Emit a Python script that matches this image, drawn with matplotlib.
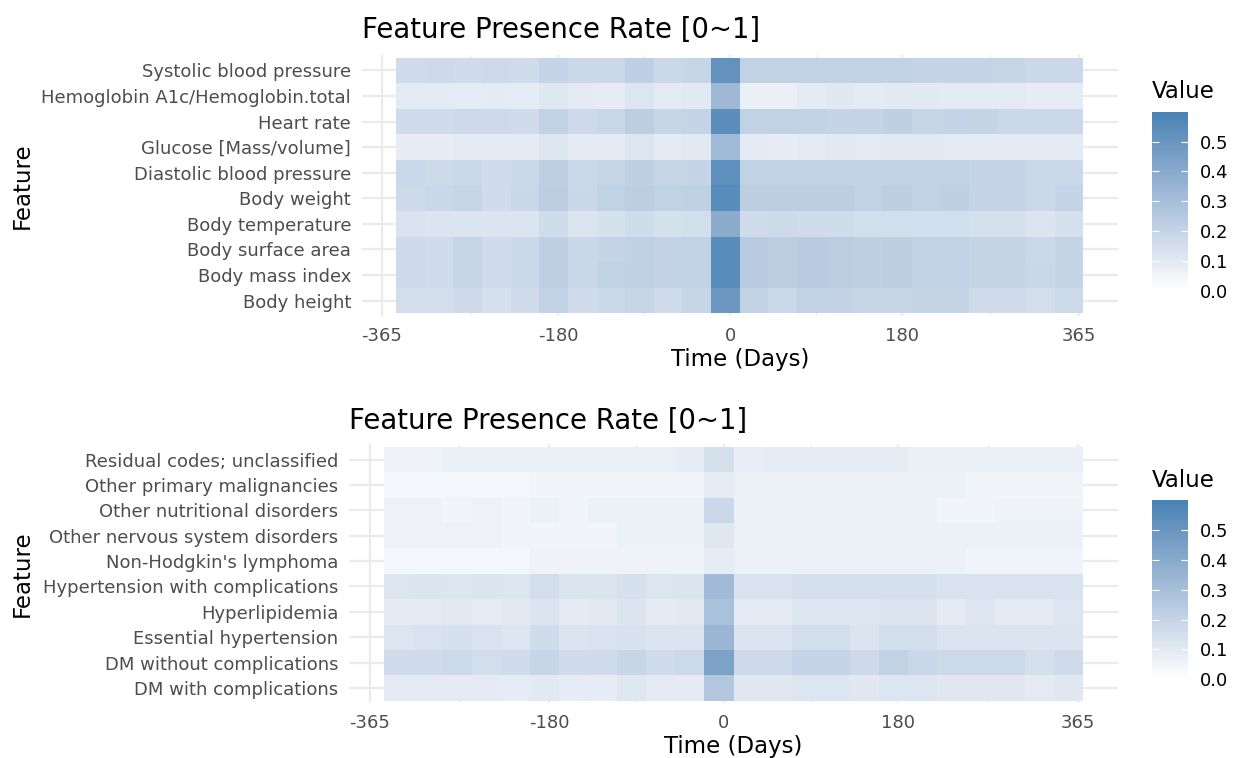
import numpy as np
import matplotlib
matplotlib.use('Agg')
import matplotlib.pyplot as plt
from matplotlib.colors import ListedColormap, Normalize
from matplotlib.cm import ScalarMappable
from matplotlib import transforms

# 30-day bins, centre of each tile (days relative to index date)
days = [-335, -305, -275, -245, -215, -185, -155, -125, -95, -65, -35, -5,
        25, 55, 85, 115, 145, 175, 205, 235, 265, 295, 325, 355]
bin_width = 30
x_ticks = [-365, -180, 0, 180, 365]
x_minor = [-272.5, -90, 90, 272.5]
legend_ticks = [0.0, 0.1, 0.2, 0.3, 0.4, 0.5]

top_features = ['Systolic blood pressure', 'Hemoglobin A1c/Hemoglobin.total',
                'Heart rate', 'Glucose [Mass/volume]', 'Diastolic blood pressure',
                'Body weight', 'Body temperature', 'Body surface area',
                'Body mass index', 'Body height']
top_rates = [
    [0.16, 0.17, 0.16, 0.17, 0.16, 0.20, 0.18, 0.18, 0.22, 0.18, 0.19, 0.52,
     0.21, 0.21, 0.21, 0.21, 0.21, 0.21, 0.20, 0.20, 0.20, 0.19, 0.18, 0.18],
    [0.09, 0.09, 0.085, 0.09, 0.085, 0.11, 0.09, 0.085, 0.115, 0.09, 0.10, 0.33,
     0.07, 0.07, 0.09, 0.105, 0.09, 0.10, 0.10, 0.09, 0.09, 0.09, 0.08, 0.085],
    [0.16, 0.16, 0.17, 0.17, 0.16, 0.21, 0.17, 0.185, 0.225, 0.19, 0.20, 0.54,
     0.21, 0.21, 0.21, 0.20, 0.20, 0.22, 0.19, 0.20, 0.195, 0.18, 0.18, 0.18],
    [0.08, 0.08, 0.09, 0.09, 0.09, 0.115, 0.09, 0.09, 0.115, 0.09, 0.10, 0.32,
     0.09, 0.08, 0.09, 0.10, 0.095, 0.10, 0.10, 0.095, 0.09, 0.09, 0.09, 0.09],
    [0.18, 0.17, 0.18, 0.16, 0.18, 0.22, 0.18, 0.19, 0.22, 0.19, 0.20, 0.53,
     0.21, 0.21, 0.21, 0.21, 0.21, 0.21, 0.21, 0.21, 0.20, 0.20, 0.18, 0.18],
    [0.17, 0.185, 0.19, 0.16, 0.185, 0.225, 0.185, 0.21, 0.225, 0.21, 0.215, 0.55,
     0.225, 0.225, 0.225, 0.225, 0.21, 0.225, 0.21, 0.22, 0.20, 0.20, 0.18, 0.20],
    [0.13, 0.125, 0.125, 0.125, 0.125, 0.16, 0.125, 0.14, 0.16, 0.14, 0.15, 0.39,
     0.16, 0.17, 0.16, 0.16, 0.15, 0.15, 0.15, 0.15, 0.145, 0.145, 0.125, 0.14],
    [0.17, 0.16, 0.19, 0.16, 0.18, 0.22, 0.185, 0.20, 0.215, 0.205, 0.21, 0.55,
     0.24, 0.23, 0.24, 0.23, 0.22, 0.225, 0.21, 0.21, 0.195, 0.195, 0.18, 0.195],
    [0.17, 0.16, 0.19, 0.16, 0.18, 0.22, 0.185, 0.21, 0.215, 0.205, 0.21, 0.55,
     0.24, 0.23, 0.24, 0.23, 0.22, 0.225, 0.21, 0.21, 0.195, 0.195, 0.185, 0.195],
    [0.15, 0.15, 0.17, 0.14, 0.16, 0.21, 0.16, 0.18, 0.19, 0.16, 0.19, 0.49,
     0.21, 0.18, 0.21, 0.205, 0.19, 0.19, 0.195, 0.195, 0.165, 0.165, 0.15, 0.175],
]

bottom_features = ['Residual codes; unclassified', 'Other primary malignancies',
                   'Other nutritional disorders', 'Other nervous system disorders',
                   "Non-Hodgkin's lymphoma", 'Hypertension with complications',
                   'Hyperlipidemia', 'Essential hypertension',
                   'DM without complications', 'DM with complications']
bottom_rates = [
    [0.055, 0.055, 0.07, 0.07, 0.07, 0.07, 0.07, 0.07, 0.07, 0.07, 0.085, 0.145,
     0.075, 0.085, 0.085, 0.085, 0.085, 0.085, 0.07, 0.07, 0.07, 0.07, 0.07, 0.07],
    [0.04, 0.04, 0.04, 0.04, 0.04, 0.05, 0.05, 0.05, 0.05, 0.05, 0.05, 0.085,
     0.065, 0.065, 0.065, 0.065, 0.065, 0.065, 0.065, 0.065, 0.05, 0.05, 0.05, 0.05],
    [0.06, 0.06, 0.05, 0.06, 0.05, 0.065, 0.05, 0.065, 0.065, 0.065, 0.065, 0.18,
     0.065, 0.065, 0.065, 0.065, 0.065, 0.065, 0.065, 0.05, 0.05, 0.055, 0.055, 0.055],
    [0.06, 0.06, 0.06, 0.06, 0.05, 0.05, 0.05, 0.05, 0.065, 0.065, 0.065, 0.11,
     0.065, 0.065, 0.065, 0.065, 0.065, 0.065, 0.065, 0.065, 0.065, 0.065, 0.065, 0.065],
    [0.04, 0.04, 0.04, 0.04, 0.04, 0.055, 0.055, 0.055, 0.055, 0.055, 0.055, 0.085,
     0.065, 0.065, 0.065, 0.065, 0.065, 0.065, 0.065, 0.065, 0.05, 0.05, 0.05, 0.05],
    [0.115, 0.125, 0.12, 0.125, 0.12, 0.15, 0.125, 0.125, 0.14, 0.12, 0.125, 0.32,
     0.13, 0.13, 0.145, 0.145, 0.145, 0.145, 0.145, 0.13, 0.13, 0.13, 0.13, 0.13],
    [0.09, 0.09, 0.10, 0.085, 0.10, 0.125, 0.09, 0.10, 0.125, 0.09, 0.10, 0.29,
     0.09, 0.09, 0.115, 0.115, 0.115, 0.125, 0.125, 0.09, 0.115, 0.09, 0.09, 0.115],
    [0.12, 0.13, 0.14, 0.13, 0.12, 0.16, 0.125, 0.13, 0.135, 0.125, 0.125, 0.34,
     0.125, 0.125, 0.15, 0.15, 0.125, 0.15, 0.15, 0.125, 0.125, 0.125, 0.125, 0.125],
    [0.16, 0.16, 0.175, 0.15, 0.16, 0.19, 0.16, 0.16, 0.19, 0.16, 0.175, 0.44,
     0.17, 0.17, 0.20, 0.20, 0.17, 0.21, 0.185, 0.175, 0.175, 0.175, 0.145, 0.165],
    [0.09, 0.09, 0.09, 0.09, 0.085, 0.10, 0.085, 0.08, 0.11, 0.09, 0.09, 0.26,
     0.105, 0.105, 0.115, 0.12, 0.105, 0.115, 0.115, 0.105, 0.105, 0.105, 0.095, 0.105],
]

# white -> steelblue, interpolated in CIELAB like ggplot's scale_fill_gradient
M = np.array([[0.4124, 0.3576, 0.1805],
              [0.2126, 0.7152, 0.0722],
              [0.0193, 0.1192, 0.9505]])
WHITE = np.array([0.95047, 1.0, 1.08883])


def to_lab(rgb):
    c = np.asarray(rgb, float) / 255
    c = np.where(c <= 0.04045, c / 12.92, ((c + 0.055) / 1.055) ** 2.4)
    xyz = M @ c / WHITE
    f = np.where(xyz > (6 / 29) ** 3, np.cbrt(xyz), xyz / (3 * (6 / 29) ** 2) + 4 / 29)
    return np.array([116 * f[1] - 16, 500 * (f[0] - f[1]), 200 * (f[1] - f[2])])


def from_lab(lab):
    fy = (lab[0] + 16) / 116
    f = np.array([fy + lab[1] / 500, fy, fy - lab[2] / 200])
    xyz = np.where(f > 6 / 29, f ** 3, 3 * (6 / 29) ** 2 * (f - 4 / 29)) * WHITE
    c = np.clip(np.linalg.solve(M, xyz), 0, None)
    c = np.where(c <= 0.0031308, 12.92 * c, 1.055 * c ** (1 / 2.4) - 0.055)
    return np.clip(c, 0, 1)


lo, hi = to_lab([255, 255, 255]), to_lab([70, 130, 180])
cmap = ListedColormap([from_lab(lo + (hi - lo) * t) for t in np.linspace(0, 1, 256)])
norm = Normalize(0, 0.6)

grid_col = '#EBEBEB'
text_col = '#4D4D4D'

fig = plt.figure(figsize=(12.36, 7.58), dpi=100)
W, H = 1236, 758


def px_axes(l, t, r, b):
    return fig.add_axes([l / W, 1 - b / H, (r - l) / W, (b - t) / H])


x_edges = np.append(np.array(days) - bin_width / 2, days[-1] + bin_width / 2)

panels = [
    (top_features, top_rates, (361.7, 55, 1117.7, 316), (1151.7, 111.7, 1188, 290.7), 12.6),
    (bottom_features, bottom_rates, (349.3, 444.3, 1117.7, 703.3), (1152.3, 500, 1188.3, 679.3), 10.8),
]

for features, rates, box, cbox, tpad in panels:
    ax = px_axes(*box)
    n = len(features)
    ax.pcolormesh(x_edges, np.arange(n + 1) - 0.5, np.array(rates), cmap=cmap,
                  norm=norm, shading='flat', edgecolor='none', zorder=2)
    ax.set_xlim(-386, 406)
    ax.set_ylim(n - 0.5 + 0.1, -0.6)
    ax.set_xticks(x_ticks)
    ax.set_xticklabels([str(v) for v in x_ticks])
    ax.set_xticks(x_minor, minor=True)
    ax.set_yticks(range(n))
    ax.set_yticklabels(features)
    ax.grid(which='major', color=grid_col, linewidth=1.6, zorder=0)
    ax.grid(which='minor', axis='x', color=grid_col, linewidth=0.8, zorder=0)
    ax.set_axisbelow(True)
    for s in ax.spines.values():
        s.set_visible(False)
    ax.tick_params(which='both', length=0, labelsize=13.0, labelcolor=text_col)
    ax.tick_params(axis='y', pad=7.7)
    ax.tick_params(axis='x', pad=8)
    ax.set_xlabel('Time (Days)', fontsize=16.5, labelpad=2)
    ax.set_ylabel('Feature', fontsize=16.5, va='center')
    ax.yaxis.set_label_coords(22 / W, 0.5,
                              transform=transforms.blended_transform_factory(fig.transFigure, ax.transAxes))
    ax.set_title('Feature Presence Rate [0~1]', loc='left', fontsize=19.8, pad=tpad)

    cax = px_axes(*cbox)
    cb = fig.colorbar(ScalarMappable(norm=norm, cmap=cmap), cax=cax, ticks=legend_ticks)
    cb.outline.set_visible(False)
    cb.ax.set_yticklabels(['%.1f' % v for v in legend_ticks])
    cb.ax.tick_params(left=True, right=True, direction='in', length=5.2, width=0.8,
                      color='white', labelsize=13.0, pad=8.6)
    cb.ax.set_title('Value', loc='left', fontsize=16.5, pad=9.6)

fig.savefig('out.png', dpi=100)
